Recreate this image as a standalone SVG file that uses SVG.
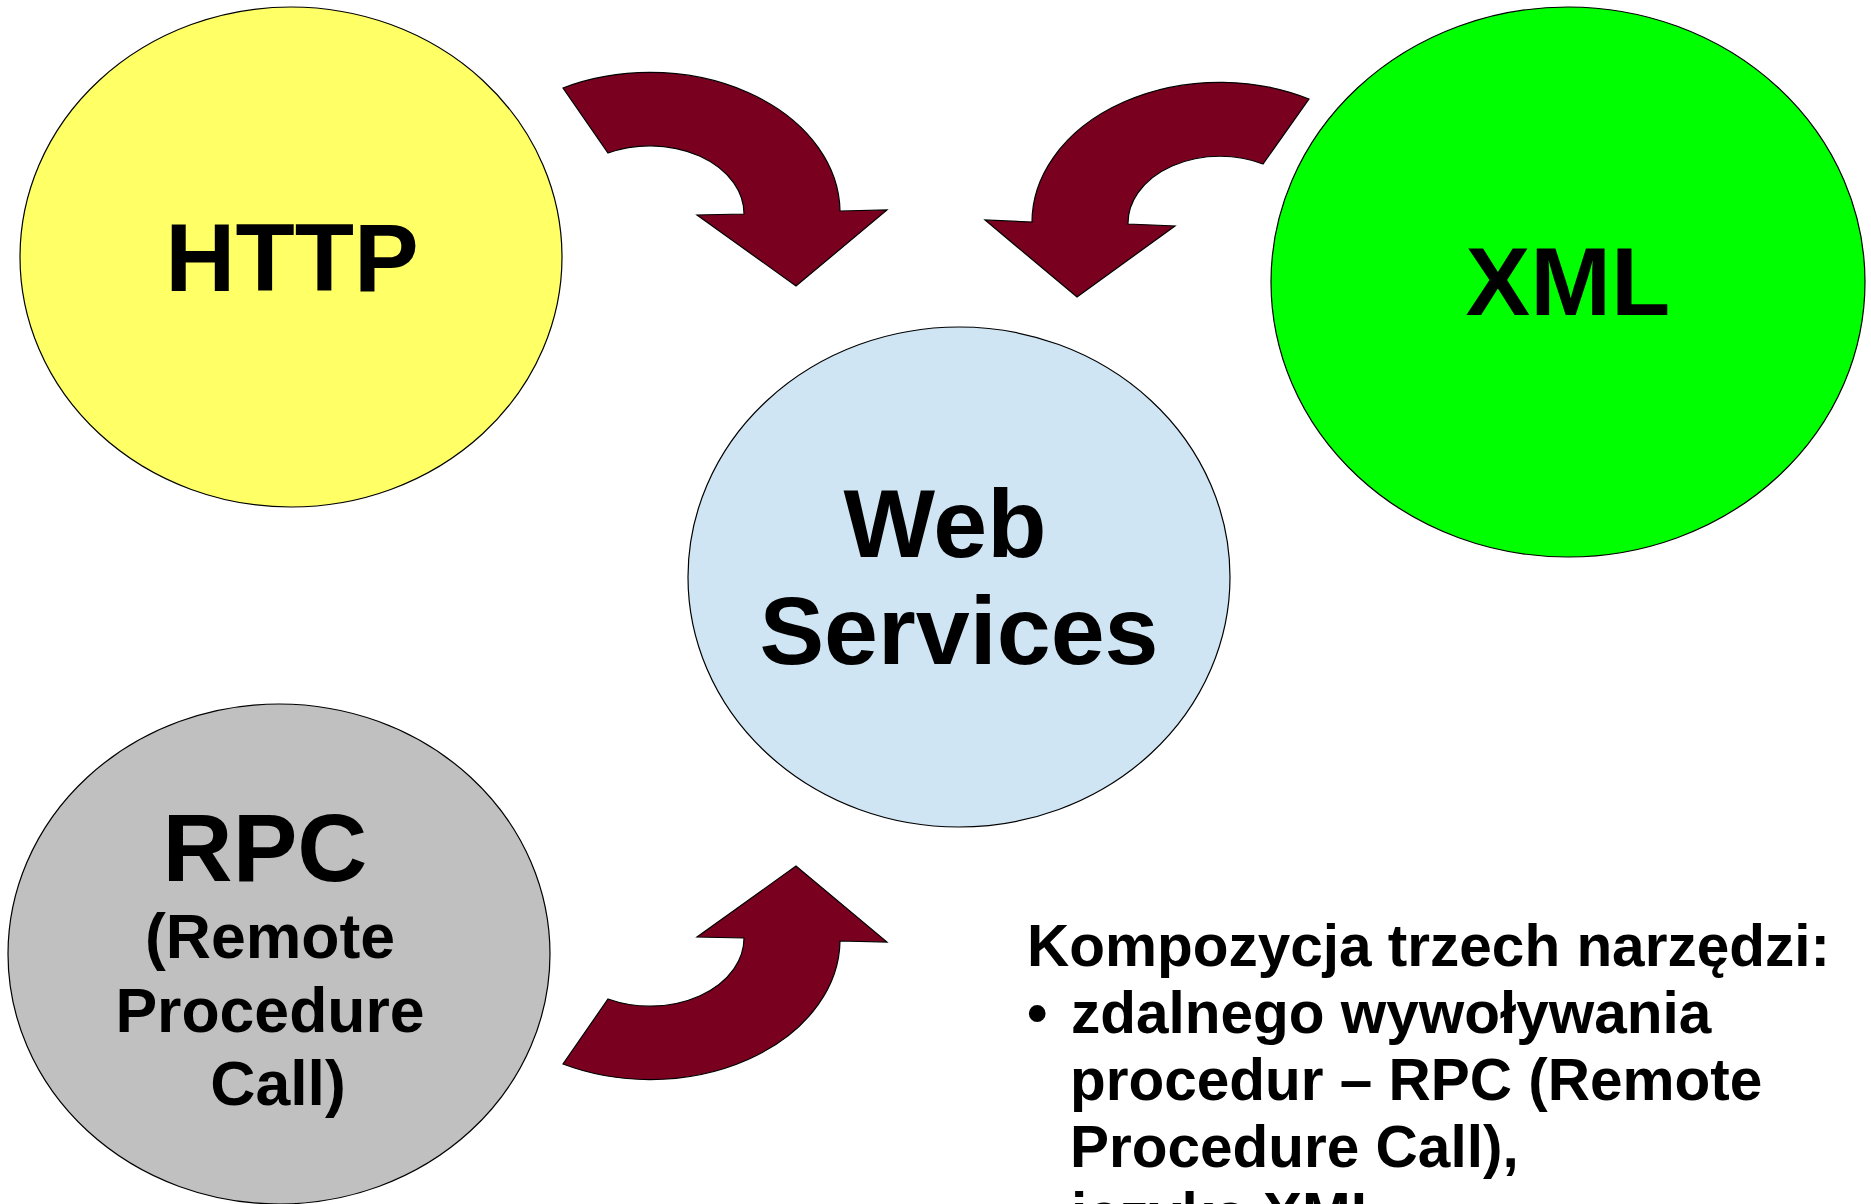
<svg xmlns="http://www.w3.org/2000/svg" width="1871" height="1204" viewBox="0 0 1871 1204">
<style>
.node{stroke:#000;stroke-width:1.2}
.lbl{font-family:"Liberation Sans",Arial,sans-serif;font-weight:bold;fill:#000;text-anchor:middle}
.big{font-size:97px}
.mid{font-size:62.5px}
.txt{font-family:"Liberation Sans",Arial,sans-serif;font-weight:bold;font-size:58.5px;fill:#000}
.arrow{fill:#7A0020;stroke:#000;stroke-width:1.2}
</style>
<rect width="1871" height="1204" fill="#fff"/>
<g id="http">
<ellipse class="node" cx="291" cy="257" rx="271" ry="250" fill="#FFFF66"/>
<text class="lbl big" x="292" y="291">HTTP</text>
</g>
<g id="xml">
<ellipse class="node" cx="1568" cy="282" rx="297" ry="275" fill="#00FF00"/>
<text class="lbl big" x="1568" y="315">XML</text>
</g>
<g id="webservices">
<ellipse class="node" cx="959" cy="577" rx="271" ry="250" fill="#CFE5F4"/>
<text class="lbl big" x="945" y="557">Web</text>
<text class="lbl big" x="959" y="664">Services</text>
</g>
<g id="rpc">
<ellipse class="node" cx="279" cy="954" rx="271" ry="250" fill="#C0C0C0"/>
<text class="lbl big" x="265" y="881">RPC</text>
<text class="lbl mid" x="270" y="958">(Remote</text>
<text class="lbl mid" x="270" y="1032">Procedure</text>
<text class="lbl mid" x="278" y="1105">Call)</text>
</g>
<g id="connectors">
<path class="arrow" d="M563,88 A190,140 0 0 1 840,211 L887,210 L796,286 L697,215 L744,214 A94,68 0 0 0 608,153 Z"/>
<path class="arrow" d="M1309,99 A188,140 0 0 0 1032,222 L985,220 L1077,297 L1175,226 L1128,224 A92,67 0 0 1 1263,164 Z"/>
<path class="arrow" d="M563,1064 A190,140 0 0 0 840,941 L887,942 L796,866 L697,937 L744,938 A94,68 0 0 1 608,999 Z"/>
</g>
<g id="description">
<text class="txt" x="1027" y="966">Kompozycja trzech narzędzi:</text>
<text class="txt" x="1027" y="1033">•</text>
<text class="txt" x="1071" y="1033">zdalnego wywoływania</text>
<text class="txt" x="1070" y="1100">procedur – RPC (Remote</text>
<text class="txt" x="1070" y="1167">Procedure Call),</text>
<text class="txt" x="1027" y="1234">•</text>
<text class="txt" x="1071" y="1234">języka XML</text>
</g>
</svg>
